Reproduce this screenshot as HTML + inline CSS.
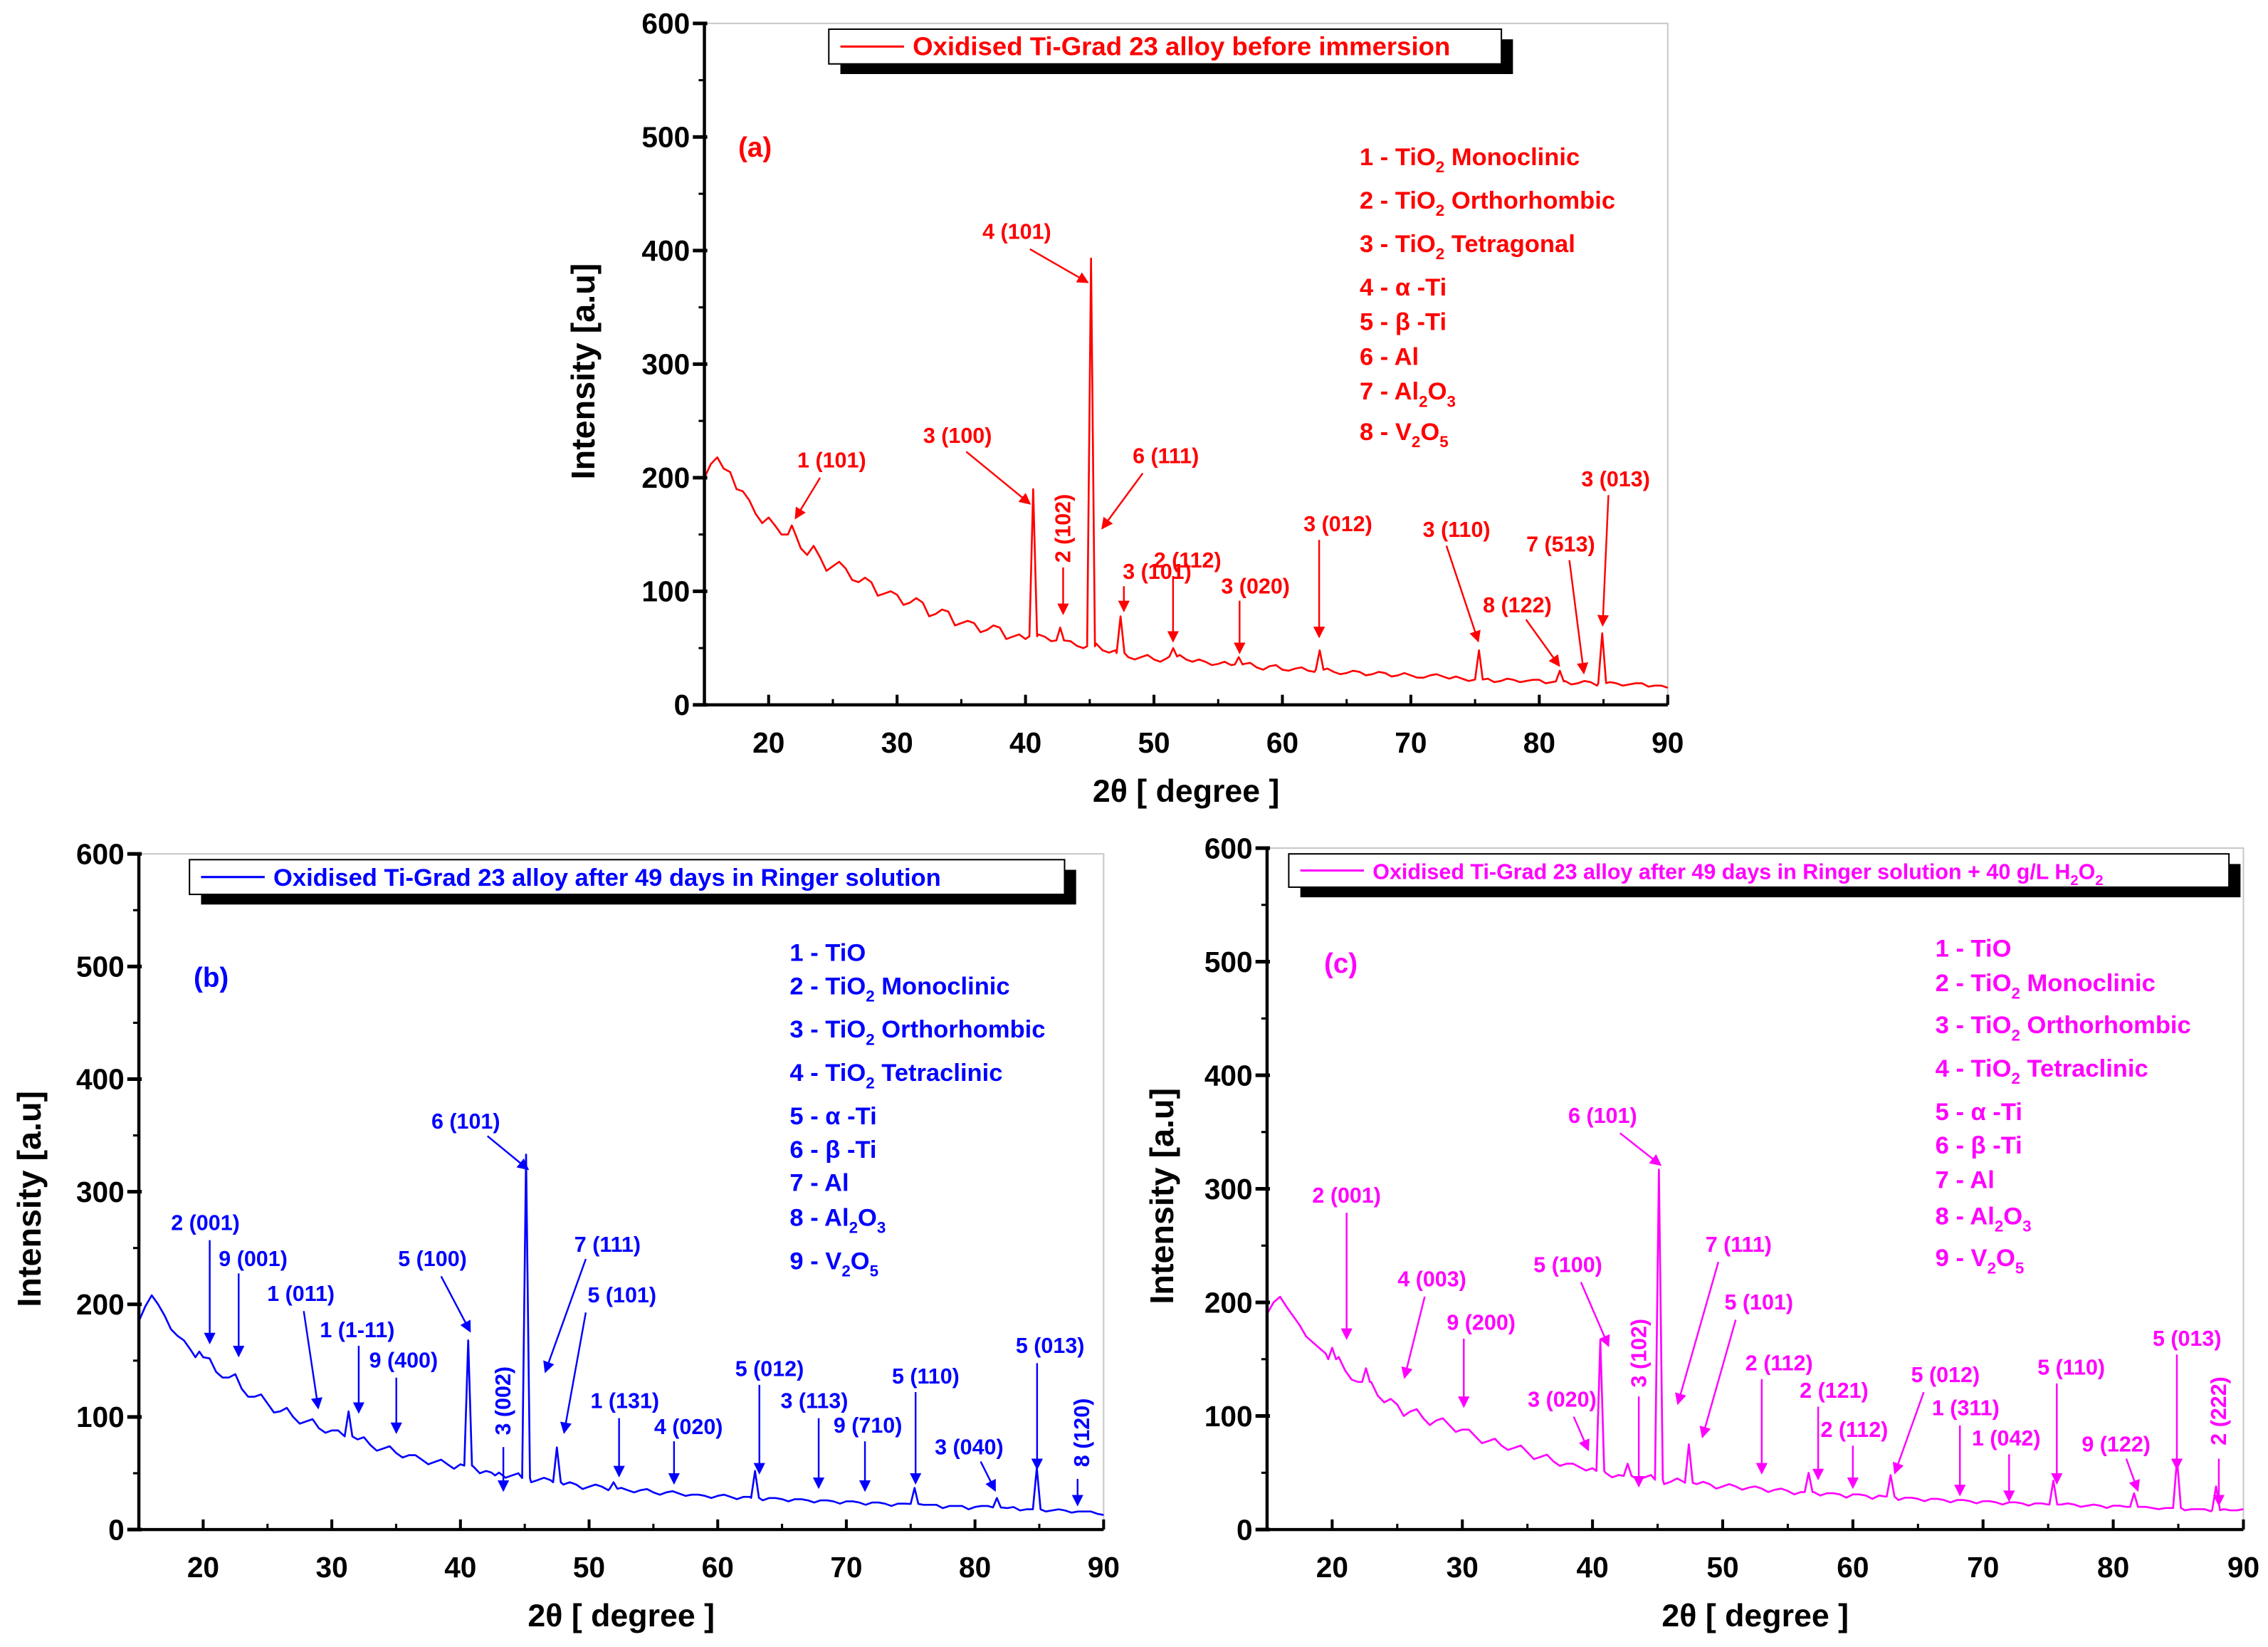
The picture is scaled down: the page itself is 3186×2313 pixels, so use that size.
<!DOCTYPE html>
<html><head><meta charset="utf-8">
<style>
html,body{margin:0;padding:0;background:#fff;}
svg{display:block;}
text{font-family:"Liberation Sans Narrow","Liberation Sans",sans-serif;font-weight:bold;}
</style></head>
<body>
<svg id="fig" width="3186" height="2313" viewBox="0 0 1568 1138" xmlns="http://www.w3.org/2000/svg">
<defs>
<marker id="arr-red" markerWidth="8" markerHeight="8" refX="7" refY="4" orient="auto" markerUnits="userSpaceOnUse"><path d="M0,0 L8,4 L0,8 z" fill="#ff0000"/></marker>
<marker id="arr-blue" markerWidth="8" markerHeight="8" refX="7" refY="4" orient="auto" markerUnits="userSpaceOnUse"><path d="M0,0 L8,4 L0,8 z" fill="#0000ff"/></marker>
<marker id="arr-mag" markerWidth="8" markerHeight="8" refX="7" refY="4" orient="auto" markerUnits="userSpaceOnUse"><path d="M0,0 L8,4 L0,8 z" fill="#ff00ff"/></marker>
</defs>
</svg>
<script>
// ---------- data ----------
const xTicks = [20,30,40,50,60,70,80,90];
const yTicks = [0,100,200,300,400,500,600];
const baseX = [15,16,17,18,19,20,21,22,23,24,25,26,27,28,29,30,31,32,33,34,35,36,37,38,39,40,41,42,43,44,45,46,47,48,49,50,51,52,53,54,55,56,57,58,59,60,61,62,63,64,65,66,67,68,69,70,71,72,73,74,75,76,77,78,79,80,81,82,83,84,85,86,87,88,89,90];
const baseA = [200,218,205,188,168,165,150,150,132,130,122,120,108,108,98,97,90,90,80,82,72,72,66,68,60,58,62,56,57,52,52,48,48,42,42,40,41,44,38,38,36,35,36,33,34,31,32,30,31,29,28,29,27,28,26,26,24,27,23,23,22,23,21,22,21,22,20,21,19,20,19,19,18,19,17,15];
const midA = [212,208,190,180,160,158,160,138,140,118,126,110,112,96,100,88,94,78,84,70,74,64,70,58,62,55,60,54,56,50,54,46,50,40,44,38,45,40,40,35,38,33,37,31,35,30,33,29,32,27,30,26,29,25,28,24,26,25,25,21,24,20,23,20,22,19,21,18,21,17,20,17,19,16,17];
const baseB = [185,208,190,172,160,150,140,135,125,118,112,105,100,96,90,88,84,80,75,72,68,66,62,60,58,58,56,52,50,48,46,44,44,40,40,38,38,36,35,35,33,33,32,31,30,30,29,29,28,28,27,27,26,26,25,25,24,24,23,23,23,22,22,21,21,20,21,19,20,18,18,17,17,16,16,13];
const midB = [198,200,178,168,150,152,135,138,118,120,104,108,94,98,86,88,78,82,70,74,64,66,58,62,54,60,50,52,46,50,42,46,40,42,36,40,35,37,33,36,31,34,30,31,28,31,27,29,26,28,25,27,24,26,23,25,22,24,21,23,20,22,19,21,18,21,18,19,17,18,16,18,15,16,14];
const baseC = [190,205,188,170,160,150,140,130,130,112,110,104,98,96,92,88,82,78,74,72,68,64,60,58,55,54,50,48,47,46,44,42,42,40,40,38,38,37,36,35,34,33,33,32,31,31,30,30,29,28,27,27,26,26,25,25,24,24,23,23,22,22,22,21,21,21,20,20,19,19,19,18,18,17,17,18];
const midC = [200,196,180,165,155,152,132,142,118,115,100,106,92,98,86,88,76,80,70,74,62,66,56,58,52,54,46,50,44,48,40,45,38,42,36,40,35,38,33,36,31,35,30,32,28,31,27,29,26,28,25,27,24,26,23,25,22,24,21,23,21,23,20,22,19,21,18,20,18,19,17,18,16,18,17];
const peakPosA = [21.8,40.6,42.7,45.1,47.4,51.5,56.6,62.9,75.3,81.6,84.9];
const peakValA = [158,190,68,393,78,50,42,48,48,30,63];
const peakPosB = [19.7,31.3,40.6,42.7,45.1,47.5,51.9,62.9,75.3,81.7,84.8];
const peakValB = [158,105,168,48,333,73,42,52,37,28,55];
const peakPosC = [20.0,22.6,40.6,42.7,45.1,47.4,56.6,62.9,75.4,81.6,84.9,87.9];
const peakValC = [160,142,167,58,317,75,50,48,43,32,62,38];

const NS = "http://www.w3.org/2000/svg";
const svg = document.getElementById('fig');
function el(tag, attrs, parent){
  const e = document.createElementNS(NS, tag);
  for (const k in attrs) e.setAttribute(k, attrs[k]);
  (parent||svg).appendChild(e);
  return e;
}

const panels = [
 {id:'a', x0:487, x1:1153, y0:16, y1:487, color:'#ff0000', mk:'arr-red', base:baseA, mid:midA, pp:peakPosA, pv:peakValA,
  ylabX:403, legend:[573,20,1038,44], legendText:'Oxidised Ti-Grad 23 alloy before immersion', legendFs:18,
  tag:[522,101],
  items:[['1 - TiO','2','  Monoclinic',108],['2 - TiO','2','  Orthorhombic',138],['3 - TiO','2','  Tetragonal',168],['4 - α  -Ti','','',198],['5 - β  -Ti','','',222],['6 - Al','','',246],['7 - Al','2','O',270,'3'],['8 - V','2','O',298,'5']],
  itemX:940,
  ann:[['1 (101)',575,318,567,330,550,358],['3 (100)',662,301,668,312,712,348],['4 (101)',703,160,712,172,752,195],
       ['2 (102)',735,365,735,392,735,424,1],['6 (111)',806,315,790,327,762,365],['3 (101)',800,395,777,405,777,422],
       ['2 (112)',821,387,811,398,811,443],['3 (020)',868,405,857,415,857,451],['3 (012)',925,362,912,373,912,440],
       ['3 (110)',1007,366,1000,377,1022,443],['8 (122)',1049,418,1055,428,1078,460],['7 (513)',1079,376,1085,387,1095,465],
       ['3 (013)',1117,331,1112,342,1108,432]]},
 {id:'b', x0:96, x1:763, y0:590, y1:1057, color:'#0000ff', mk:'arr-blue', base:baseB, mid:midB, pp:peakPosB, pv:peakValB,
  ylabX:20, legend:[131,594,736,618], legendText:'Oxidised Ti-Grad 23 alloy after 49 days in Ringer solution', legendFs:17,
  tag:[146,675],
  items:[['1 - TiO','','',658],['2 - TiO','2','  Monoclinic',681],['3 - TiO','2','  Orthorhombic',711],['4 - TiO','2','  Tetraclinic',741],['5 - α  -Ti','','',771],['6 - β  -Ti','','',794],['7 - Al','','',817],['8 - Al','2','O',841,'3'],['9 - V','2','O',871,'5']],
  itemX:546,
  ann:[['2 (001)',142,845,145,857,145,928],['9 (001)',175,870,165,880,165,937],['1 (011)',208,894,210,906,220,973],
       ['1 (1-11)',247,919,248,930,248,976],['9 (400)',279,940,274,952,274,990],['5 (100)',299,870,305,882,325,920],
       ['3 (002)',348,968,348,1000,348,1030,1],['6 (101)',322,775,337,785,365,808],['7 (111)',420,860,405,870,377,948],
       ['5 (101)',430,895,405,907,390,990],['1 (131)',432,968,428,980,428,1020],['4 (020)',476,986,466,996,466,1025],
       ['5 (012)',532,946,525,957,525,1018],['3 (113)',563,968,566,980,566,1028],['9 (710)',600,985,598,996,598,1030],
       ['5 (110)',640,951,633,962,633,1025],['3 (040)',670,1000,678,1010,688,1030],['5 (013)',726,930,717,942,717,1015],
       ['8 (120)',748,990,745,1022,745,1040,1]]},
 {id:'c', x0:876, x1:1551, y0:586, y1:1057, color:'#ff00ff', mk:'arr-mag', base:baseC, mid:midC, pp:peakPosC, pv:peakValC,
  ylabX:803, legend:[891,590,1541,613], legendText:'Oxidised Ti-Grad 23 alloy after 49 days in Ringer solution + 40 g/L H', legendFs:15,
  tag:[927,665],
  items:[['1 - TiO','','',655],['2 - TiO','2','  Monoclinic',679],['3 - TiO','2','  Orthorhombic',708],['4 - TiO','2','  Tetraclinic',738],['5 - α  -Ti','','',768],['6 - β  -Ti','','',791],['7 - Al','','',815],['8 - Al','2','O',840,'3'],['9 - V','2','O',869,'5']],
  itemX:1338,
  ann:[['2 (001)',931,826,931,838,931,925],['4 (003)',990,884,985,896,971,952],['9 (200)',1024,914,1012,925,1012,972],
       ['3 (020)',1080,967,1088,979,1098,1002],['5 (100)',1084,874,1093,886,1112,930],['3 (102)',1133,935,1133,965,1133,1027,1],
       ['6 (101)',1108,771,1120,783,1148,805],['7 (111)',1202,860,1188,872,1160,970],['5 (101)',1216,900,1200,912,1177,993],
       ['2 (112)',1230,942,1218,953,1218,1018],['2 (121)',1268,961,1257,972,1257,1022],['2 (112)',1282,988,1281,999,1281,1028],
       ['5 (012)',1345,950,1330,962,1310,1018],['1 (311)',1359,973,1355,985,1355,1033],['1 (042)',1387,994,1389,1005,1389,1037],
       ['5 (110)',1432,945,1422,956,1422,1025],['9 (122)',1463,998,1470,1008,1478,1030],['5 (013)',1512,925,1505,936,1505,1015],
       ['2 (222)',1534,975,1534,1008,1534,1040,1]]}
];

function interp(arr, x){
  if (x <= baseX[0]) return arr[0];
  for (let i=0;i<baseX.length-1;i++){
    if (x <= baseX[i+1]) { const t=(x-baseX[i])/(baseX[i+1]-baseX[i]); return arr[i]+t*(arr[i+1]-arr[i]); }
  }
  return arr[arr.length-1];
}

panels.forEach(p=>{
  const g = el('g', {});
  
  
  const sx = v => p.x0 + (v-15)/75*(p.x1-p.x0);
  const sy = v => p.y1 - v/600*(p.y1-p.y0);
  const fr = el('rect', {x:p.x0, y:p.y0, width:p.x1-p.x0, height:p.y1-p.y0, fill:'none', stroke:'#c8c8c8', 'stroke-width':1}, g);
  
  
  let pts = [];
  const near = x => p.pp.some(q=>Math.abs(q-x)<0.35);
  baseX.forEach((x,i)=>{
    if (!near(x)) pts.push([x,p.base[i]]);
    if (i < p.mid.length && !near(x+0.5)) pts.push([x+0.5,p.mid[i]]);
  });
  p.pp.forEach((q,i)=>{ const b=interp(p.base,q); pts.push([q-0.3,b]); pts.push([q,p.pv[i]]); pts.push([q+0.3,b]); });
  pts.sort((a,b)=>a[0]-b[0]);
  const line = el('polyline', {points: pts.map(d=>sx(d[0]).toFixed(1)+','+sy(d[1]).toFixed(1)).join(' '), fill:'none', stroke:p.color, 'stroke-width':1.3, 'stroke-linejoin':'round'}, g);
  
  
  const ax = el('line', {x1:p.x0, y1:p.y1, x2:p.x1, y2:p.y1, stroke:'#000', 'stroke-width':2.2}, g);
  
  
  const ay = el('line', {x1:p.x0, y1:p.y0-1, x2:p.x0, y2:p.y1+1, stroke:'#000', 'stroke-width':2.2}, g);
  
  
  xTicks.forEach(t=>{
    el('line', {x1:sx(t), y1:p.y1, x2:sx(t), y2:p.y1-7, stroke:'#000', 'stroke-width':2}, g);
    el('line', {x1:sx(t-5), y1:p.y1, x2:sx(t-5), y2:p.y1-4, stroke:'#000', 'stroke-width':1.5}, g);
    const tl = el('text', {x:sx(t), y:p.y1+33, 'font-size':20, 'text-anchor':'middle'}, g);
    tl.textContent = t;
    
    
  });
  yTicks.forEach((t,i)=>{
    el('line', {x1:p.x0-8, y1:sy(t), x2:p.x0+2, y2:sy(t), stroke:'#000', 'stroke-width':2.5}, g);
    if (i>0) el('line', {x1:p.x0-4, y1:sy(t-50), x2:p.x0, y2:sy(t-50), stroke:'#000', 'stroke-width':1.5}, g);
    const tl = el('text', {x:p.x0-10, y:sy(t)+7, 'font-size':20, 'text-anchor':'end'}, g);
    tl.textContent = t;
    
    
  });
  const xt = el('text', {x:(p.x0+p.x1)/2, y:p.y1+67, 'font-size':22, 'text-anchor':'middle'}, g);
  xt.textContent = '2θ [ degree ]';
  
  
  const ycy = (p.y0+p.y1)/2+5;
  const yt = el('text', {x:p.ylabX, y:ycy, 'font-size':23, 'text-anchor':'middle', transform:'rotate(-90 '+(p.ylabX)+' '+ycy+')', dy:8}, g);
  yt.textContent = 'Intensity  [a.u]';
  
  
  const L = p.legend;
  el('rect', {x:L[0]+8, y:L[1]+7, width:L[2]-L[0], height:L[3]-L[1], fill:'#000'}, g);
  const lb = el('rect', {x:L[0], y:L[1], width:L[2]-L[0], height:L[3]-L[1], fill:'#fff', stroke:'#000', 'stroke-width':1}, g);
  
  
  const ly = (L[1]+L[3])/2;
  el('line', {x1:L[0]+8, y1:ly, x2:L[0]+52, y2:ly, stroke:p.color, 'stroke-width':1.5}, g);
  const lt = el('text', {x:L[0]+58, y:ly+6, 'font-size':p.legendFs, fill:p.color}, g);
  
  
  lt.textContent = p.legendText;
  if (p.id==='c'){
    const s1 = el('tspan', {dy:4, 'font-size':10}, lt); s1.textContent='2';
    const s2 = el('tspan', {dy:-4}, lt); s2.textContent='O';
    const s3 = el('tspan', {dy:4, 'font-size':10}, lt); s3.textContent='2';
  }
  const tg = el('text', {x:p.tag[0], y:p.tag[1]+7, 'font-size':19, fill:p.color, 'text-anchor':'middle'}, g);
  tg.textContent = '('+p.id+')';
  
  
  p.items.forEach(it=>{
    const t = el('text', {x:p.itemX, y:it[3]+6, 'font-size':17, fill:p.color}, g);
    
    
    const a = el('tspan', {}, t); a.textContent = it[0];
    if (it[1]) { const s = el('tspan', {dy:5, 'font-size':11}, t); s.textContent = it[1]; }
    if (it[2]) { const b = el('tspan', {dy:it[1]?-5:0, 'xml:space':'preserve'}, t); b.textContent = it[2]; }
    if (it[4]) { const s = el('tspan', {dy:5, 'font-size':11}, t); s.textContent = it[4]; }
  });
  p.ann.forEach(a=>{
    const arw = el('line', {x1:a[3], y1:a[4], x2:a[5], y2:a[6], stroke:p.color, 'stroke-width':1.2, 'marker-end':'url(#'+p.mk+')'}, g);
    
    
    let t;
    if (a[7]) t = el('text', {x:a[1], y:a[2], 'font-size':15, fill:p.color, 'text-anchor':'middle', transform:'rotate(-90 '+a[1]+' '+a[2]+')', dy:5}, g);
    else t = el('text', {x:a[1], y:a[2]+5, 'font-size':15, fill:p.color, 'text-anchor':'middle'}, g);
    t.textContent = a[0];
    
    
  });
});
</script>
</body></html>
